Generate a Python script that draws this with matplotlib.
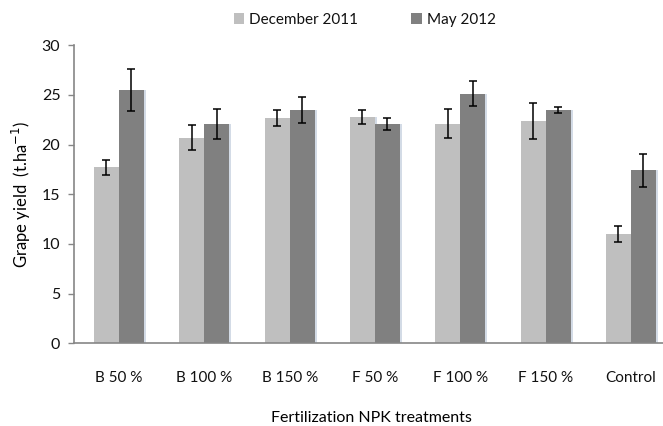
import matplotlib
matplotlib.use("Agg")
import matplotlib.pyplot as plt
import numpy as np

# rendimiento de uva por tratamiento (t/ha)
tratamientos = ["B 50 %", "B 100 %", "B 150 %", "F 50 %", "F 100 %", "F 150 %", "Control"]
dic_2011 = [17.7, 20.7, 22.7, 22.8, 22.1, 22.4, 11.0]
dic_2011_err = [0.75, 1.25, 0.8, 0.7, 1.45, 1.8, 0.85]
may_2012 = [25.5, 22.1, 23.5, 22.1, 25.1, 23.5, 17.4]
may_2012_err = [2.1, 1.5, 1.3, 0.6, 1.25, 0.3, 1.7]

plt.rcParams['font.family'] = ['Lato', 'DejaVu Sans']
plt.rcParams['text.color'] = '#111111'

fig = plt.figure(figsize=(6.63, 4.26), dpi=100)
ax = fig.add_axes([0.112, 0.194, 0.904, 0.700])

x = np.arange(len(tratamientos))
ancho = 0.293
sombra = 0.025

# sombra suave a la derecha de cada barra
for desp, vals in [(-ancho / 2, dic_2011), (ancho / 2, may_2012)]:
    ax.bar(x + desp + sombra, vals, ancho, color='#d3dbe6', zorder=1)

ax.bar(x - ancho / 2, dic_2011, ancho, color='#bfbfbf', label='December 2011', zorder=2)
ax.bar(x + ancho / 2, may_2012, ancho, color='#808080', label='May 2012', zorder=2)
ax.errorbar(x - ancho / 2, dic_2011, yerr=dic_2011_err, fmt='none', ecolor='black',
            elinewidth=1.1, capsize=3, capthick=1.1, zorder=3)
ax.errorbar(x + ancho / 2, may_2012, yerr=may_2012_err, fmt='none', ecolor='black',
            elinewidth=1.1, capsize=3, capthick=1.1, zorder=3)

ax.set_xlim(-0.524, 6.5)
ax.set_ylim(0, 30)
ax.set_yticks(np.arange(0, 31, 5))
ax.set_xticks(x)
ax.set_xticklabels(tratamientos, fontsize=11)
ax.tick_params(axis='x', length=0, pad=20, labelcolor='#111111')
ax.tick_params(axis='y', length=4, width=1, color='#868686', labelsize=11.5, pad=6,
               labelcolor='#111111')

for s in ['top', 'right']:
    ax.spines[s].set_visible(False)
for s in ['left', 'bottom']:
    ax.spines[s].set_color('#868686')
    ax.spines[s].set_linewidth(1.2)

ax.set_ylabel('Grape yield  (t.ha$^{-1}$)', fontsize=12, labelpad=6)
ax.set_xlabel('Fertilization NPK treatments', fontsize=11.5)
ax.xaxis.set_label_coords(0.5 - 0.0045, -0.228)

handles, labels = ax.get_legend_handles_labels()
fig.legend(handles[-2:], labels[-2:], loc='center', bbox_to_anchor=(0.55, 0.953), ncol=2,
           frameon=False, fontsize=11, handlelength=0.7, handleheight=0.7,
           handletextpad=0.3, columnspacing=3.5)

plt.savefig("out.png", dpi=100)
